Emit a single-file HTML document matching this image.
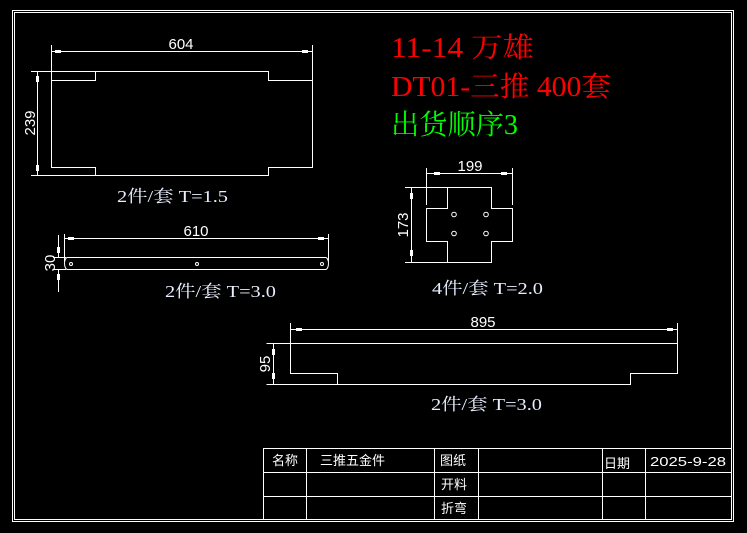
<!DOCTYPE html>
<html><head><meta charset="utf-8"><style>
html,body{margin:0;padding:0;background:#000;}
svg{display:block}
text{font-family:"Liberation Serif","Noto Serif CJK SC",serif;}
.d{font-family:"Liberation Sans","Noto Sans CJK SC",sans-serif;fill:#fff;font-size:15px}
.l{fill:#e8eeff;font-size:17px}
.t{fill:#fff;font-family:"Liberation Sans","Noto Sans CJK SC",sans-serif;font-size:13px}
</style></head><body>
<svg width="747" height="533" viewBox="0 0 747 533" xmlns="http://www.w3.org/2000/svg">
<g fill="none" stroke="#fff" stroke-width="1">
<rect x="12.5" y="10.5" width="721" height="511"/>
<rect x="14.5" y="12.5" width="717" height="507"/>
<rect x="263.5" y="448.5" width="468" height="71"/>
<line x1="263.5" y1="472.5" x2="731.5" y2="472.5"/>
<line x1="263.5" y1="496.5" x2="731.5" y2="496.5"/>
<line x1="306.5" y1="448.5" x2="306.5" y2="519.5"/>
<line x1="434.5" y1="448.5" x2="434.5" y2="519.5"/>
<line x1="478.5" y1="448.5" x2="478.5" y2="519.5"/>
<line x1="602.5" y1="448.5" x2="602.5" y2="519.5"/>
<line x1="645.5" y1="448.5" x2="645.5" y2="519.5"/>
<path d="M95.5 71.5 H268.5 V80.5 H312.5 V167.5 H268.5 V175.5 H95.5 V167.5 H51.5 V80.5 H95.5 Z"/>
<line x1="51.5" y1="45" x2="51.5" y2="80"/>
<line x1="312.5" y1="45" x2="312.5" y2="80"/>
<line x1="51.5" y1="51.5" x2="312.5" y2="51.5"/>
<line x1="31" y1="71.5" x2="95" y2="71.5"/>
<line x1="31" y1="175.5" x2="95" y2="175.5"/>
<line x1="37.5" y1="71.5" x2="37.5" y2="175.5"/>
<path d="M67.5 257.5 H325.5 A3 6 0 0 1 325.5 269.5 H67.5 A3 6 0 0 1 67.5 257.5 Z"/>
<line x1="64.5" y1="234" x2="64.5" y2="262"/>
<line x1="328.5" y1="234" x2="328.5" y2="262"/>
<line x1="64.5" y1="238.5" x2="328.5" y2="238.5"/>
<line x1="53" y1="257.5" x2="66" y2="257.5"/>
<line x1="53" y1="269.5" x2="66" y2="269.5"/>
<line x1="58.5" y1="235" x2="58.5" y2="257.5"/>
<line x1="58.5" y1="269.5" x2="58.5" y2="292"/>
<circle cx="71" cy="264" r="1.5"/><circle cx="197" cy="264" r="1.5"/><circle cx="322" cy="264" r="1.5"/>
<path d="M447.5 187.5 H491.5 V208.5 H512.5 V241.5 H491.5 V262.5 H447.5 V241.5 H426.5 V208.5 H447.5 Z"/>
<line x1="426.5" y1="168" x2="426.5" y2="205"/>
<line x1="512.5" y1="168" x2="512.5" y2="205"/>
<line x1="426.5" y1="173.5" x2="512.5" y2="173.5"/>
<line x1="405" y1="187.5" x2="447" y2="187.5"/>
<line x1="405" y1="262.5" x2="447" y2="262.5"/>
<line x1="411.5" y1="187.5" x2="411.5" y2="262.5"/>
<circle cx="454" cy="214.5" r="2.3"/><circle cx="486" cy="214.5" r="2.3"/>
<circle cx="454" cy="233.5" r="2.3"/><circle cx="486" cy="233.5" r="2.3"/>
<path d="M266.5 343.5 H677.5 V373.5 H630.5 V384.5 H266.5 M337.5 384.5 V373.5 H290.5 V323"/>
<line x1="677.5" y1="323" x2="677.5" y2="343.5"/>
<line x1="290.5" y1="329.5" x2="677.5" y2="329.5"/>
<line x1="273.5" y1="343.5" x2="273.5" y2="384.5"/>
</g>
<g fill="#fff">
<rect x="55" y="50" width="6" height="3"/><rect x="302" y="50" width="6" height="3"/>
<rect x="36" y="76" width="3" height="6"/><rect x="36" y="165" width="3" height="6"/>
<rect x="68" y="237" width="6" height="3"/><rect x="318" y="237" width="6" height="3"/>
<rect x="57" y="247" width="3" height="6"/><rect x="57" y="274" width="3" height="6"/>
<rect x="434" y="172" width="6" height="3"/><rect x="501" y="172" width="6" height="3"/>
<rect x="410" y="193" width="3" height="6"/><rect x="410" y="250" width="3" height="6"/>
<rect x="296" y="328" width="6" height="3"/><rect x="667" y="328" width="6" height="3"/>
<rect x="272" y="349" width="3" height="6"/><rect x="272" y="373" width="3" height="6"/>
</g>
<text class="d" x="181" y="49" text-anchor="middle">604</text>
<text class="d" transform="translate(35,123) rotate(-90)" text-anchor="middle">239</text>
<text class="d" x="196" y="236" text-anchor="middle">610</text>
<text class="d" transform="translate(55,263) rotate(-90)" text-anchor="middle">30</text>
<text class="d" x="470" y="171" text-anchor="middle">199</text>
<text class="d" transform="translate(408,225) rotate(-90)" text-anchor="middle">173</text>
<text class="d" x="483" y="327" text-anchor="middle">895</text>
<text class="d" transform="translate(270,364) rotate(-90)" text-anchor="middle">95</text>
<text class="l" x="117" y="202" textLength="111" lengthAdjust="spacingAndGlyphs">2件/套 T=1.5</text>
<text class="l" x="165" y="297" textLength="111" lengthAdjust="spacingAndGlyphs">2件/套 T=3.0</text>
<text class="l" x="432" y="294" textLength="111" lengthAdjust="spacingAndGlyphs">4件/套 T=2.0</text>
<text class="l" x="431" y="410" textLength="111" lengthAdjust="spacingAndGlyphs">2件/套 T=3.0</text>
<text x="391" y="57" fill="#ff0000" font-size="28" textLength="143" lengthAdjust="spacingAndGlyphs">11-14 万雄</text>
<text x="391" y="96" fill="#ff0000" font-size="28" textLength="220" lengthAdjust="spacingAndGlyphs">DT01-三推 400套</text>
<text x="391" y="134" fill="#00ff00" font-size="28" textLength="127" lengthAdjust="spacingAndGlyphs">出货顺序3</text>
<text class="t" x="285" y="465" text-anchor="middle">名称</text>
<text class="t" x="320" y="465">三推五金件</text>
<text class="t" x="440" y="465">图纸</text>
<text class="t" x="441" y="489">开料</text>
<text class="t" x="441" y="513">折弯</text>
<text class="t" x="604" y="468" font-size="18">日期</text>
<text class="t" x="650" y="466" font-size="14" textLength="76" lengthAdjust="spacingAndGlyphs">2025-9-28</text>
</svg>
</body></html>
